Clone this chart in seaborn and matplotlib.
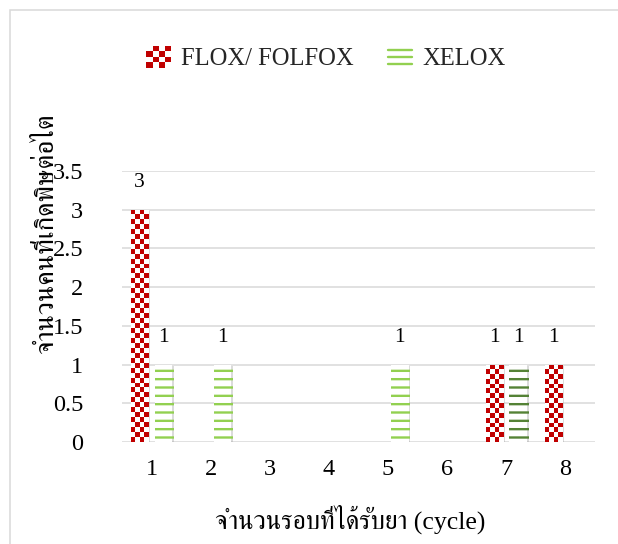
import numpy as np
import pandas as pd
import seaborn as sns
import matplotlib
matplotlib.use("Agg")
import matplotlib.pyplot as plt
from matplotlib import font_manager
from matplotlib.ft2font import FT2Font
from matplotlib.patches import Rectangle
from matplotlib.lines import Line2D
from matplotlib.legend_handler import HandlerBase
from matplotlib.colors import ListedColormap
import matplotlib.patheffects as pe

# ---------------- data ----------------
cycles = ["1", "2", "3", "4", "5", "6", "7", "8"]
flox_folfox = [3, 0, 0, 0, 0, 0, 1, 1]
xelox = [1, 1, 0, 0, 1, 0, 1, 0]
series_names = ["FLOX/ FOLFOX", "XELOX"]
y_ticks = [0, 0.5, 1, 1.5, 2, 2.5, 3, 3.5]
x_title = "จำนวนรอบที่ได้รับยา (cycle)"
y_title = "จำนวนคนที่เกิดพิษต่อไต"

RED = "#C00000"
GREEN = "#92D050"
DARK_GREEN = "#548235"
GRID = "#D9D9D9"

# ---------------- fonts ----------------
thai_candidates = []
for f in font_manager.fontManager.ttflist:
    try:
        cm = FT2Font(f.fname).get_charmap()
        if 0x0E08 in cm and 0x0E33 in cm:
            thai_candidates.append(f.name)
    except Exception:
        pass
thai_candidates = sorted(set(thai_candidates), key=lambda n: (0 if "Serif" in n else 1, n))
families = ["Liberation Serif"] + thai_candidates[:2] + ["DejaVu Serif", "DejaVu Sans"]

sns.set_theme(style="white")
plt.rcParams["font.family"] = families
plt.rcParams["hatch.linewidth"] = 1.7

# ---------------- figure ----------------
fig = plt.figure(figsize=(6.18, 5.44), dpi=100)
W, H = 618, 544
ax_l, ax_r, ax_b, ax_t = 122, 595, 442, 171
ax = fig.add_axes([ax_l / W, 1 - ax_b / H, (ax_r - ax_l) / W, (ax_b - ax_t) / H])

df = pd.DataFrame({
    "cycle": cycles * 2,
    "count": flox_folfox + xelox,
    "regimen": [series_names[0]] * len(cycles) + [series_names[1]] * len(cycles),
})

sns.barplot(data=df, x="cycle", y="count", hue="regimen", order=cycles,
            hue_order=series_names, palette=[RED, "white"], width=0.8, gap=0.25,
            legend=False, ax=ax, zorder=3)

ax.set_ylim(0, 3.5)
ax.set_xlim(-0.5, len(cycles) - 0.5)
ax.set_yticks(y_ticks)
ax.set_yticklabels([f"{t:g}" for t in y_ticks])
ax.yaxis.grid(True, color=GRID, linewidth=1.1, zorder=0)
ax.xaxis.grid(False)
ax.set_axisbelow(True)
for s in ax.spines.values():
    s.set_visible(False)
ax.tick_params(axis="y", length=0, pad=28, labelsize=17.5, colors="black")
ax.tick_params(axis="x", length=0, pad=12, labelsize=17.5, colors="black")

shadow = [pe.SimplePatchShadow(offset=(1.2, -1.2), shadow_rgbFace="#9a9a9a", alpha=0.35), pe.Normal()]

# checkerboard texture for FLOX/FOLFOX bars
flox_bars = ax.containers[0]
xel_bars = ax.containers[1]
cmap = ListedColormap(["white", RED])
cell = 4.9
for p, v in zip(flox_bars.patches, flox_folfox):
    p.set_edgecolor("none")
    if v <= 0:
        continue
    p.set_path_effects(shadow)
    x0, y0 = p.get_x(), p.get_y()
    x1, y1 = x0 + p.get_width(), y0 + p.get_height()
    (px0, py0), (px1, py1) = ax.transData.transform([(x0, y0), (x1, y1)])
    nc = max(1, int(round((px1 - px0) / cell)))
    nr = max(1, int(round((py1 - py0) / cell)))
    arr = (np.add.outer(np.arange(nr), np.arange(nc)) % 2 == 0).astype(float)
    im = ax.imshow(arr, extent=[x0, x1, y0, y1], origin="lower", aspect="auto",
                   cmap=cmap, vmin=0, vmax=1, interpolation="nearest", zorder=3.5)
    im.set_clip_path(p)

# horizontal-line hatch for XELOX bars
for i, (p, v) in enumerate(zip(xel_bars.patches, xelox)):
    col = DARK_GREEN if cycles[i] == "7" else GREEN
    p.set_facecolor("white")
    p.set_edgecolor(col)
    p.set_hatch("--")
    p.set_linewidth(0)
    if v > 0:
        p.set_path_effects(shadow)

ax.set_ylim(0, 3.5)
ax.set_xlim(-0.5, len(cycles) - 0.5)

# data labels
for cont, vals in ((flox_bars, flox_folfox), (xel_bars, xelox)):
    ax.bar_label(cont, labels=[f"{v:g}" if v > 0 else "" for v in vals],
                 padding=13, fontsize=15.5, color="black")

ax.set_xlabel(x_title, fontsize=18.5, color="black")
ax.set_ylabel(y_title, fontsize=19.5, color="black")
ax.xaxis.set_label_coords((350 - ax_l) / (ax_r - ax_l), (ax_b - 519) / (ax_b - ax_t))
ax.yaxis.set_label_coords((47 - ax_l) / (ax_r - ax_l), (ax_b - 234) / (ax_b - ax_t))
ax.xaxis.label.set_va("center")
ax.yaxis.label.set_va("center")

# legend with custom handles
class CheckerHandler(HandlerBase):
    def create_artists(self, legend, orig_handle, xdescent, ydescent, width, height, fontsize, trans):
        arts = []
        n = 4
        cw, ch = width / n, height / n
        for i in range(n):
            for j in range(n):
                c = RED if (i + j) % 2 == 0 else "white"
                arts.append(Rectangle((-xdescent + i * cw, -ydescent + j * ch), cw, ch,
                                      facecolor=c, edgecolor="none", transform=trans))
        return arts

class LinesHandler(HandlerBase):
    def create_artists(self, legend, orig_handle, xdescent, ydescent, width, height, fontsize, trans):
        arts = []
        for k in (0.18, 0.5, 0.82):
            y = -ydescent + k * height
            arts.append(Line2D([-xdescent, -xdescent + width], [y, y], color=GREEN,
                               linewidth=1.7, transform=trans))
        return arts

h1 = Rectangle((0, 0), 1, 1, facecolor=RED)
h2 = Rectangle((0, 0), 1, 1, facecolor="white")
fig.legend([h1, h2], series_names, handler_map={h1: CheckerHandler(), h2: LinesHandler()},
           loc="center", bbox_to_anchor=(326 / W, 1 - 58 / H), ncol=2, frameon=False,
           fontsize=17.7, handlelength=1.0, handleheight=1.0, handletextpad=0.4,
           columnspacing=1.4)

# chart-area border (only top and left visible)
fig.patches.append(Rectangle((9.5 / W, -0.5), 2.0, 1.5 - 9.5 / H, transform=fig.transFigure,
                             fill=False, edgecolor=GRID, linewidth=1.1))

fig.savefig("out.png", dpi=100)
